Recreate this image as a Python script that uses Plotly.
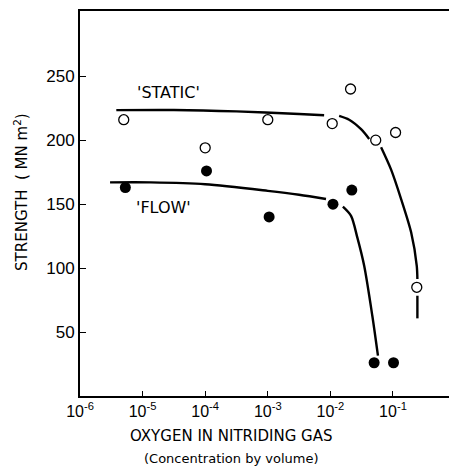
import plotly.graph_objects as go

# Measured strengths (MN m^-2) against oxygen concentration in the nitriding gas
static_x = [5e-6, 1e-4, 1e-3, 1.07e-2, 2.1e-2, 5.3e-2, 1.1e-1, 2.4e-1]
static_y = [216, 194, 216, 213, 240, 200, 206, 85]

flow_x = [5.3e-6, 1.05e-4, 1.05e-3, 1.1e-2, 2.2e-2, 5e-2, 1.02e-1]
flow_y = [163, 176, 140, 150, 161, 26, 26]

# Hand-fitted trend curves (log10 of concentration, strength); None breaks the stroke
static_curve_logx = [-5.42, -4.5, -3.5, -2.5, -2.1, None,
                     -1.86, -1.70, -1.51, -1.38, None,
                     -1.19, -1.03, -0.87, -0.71, -0.62, -0.61, None,
                     -0.61, -0.61]
static_curve_y = [223.5, 223.6, 222.5, 220.5, 219.5, None,
                  219, 216, 208.6, 201, None,
                  194.5, 177, 154, 128, 101.8, 91.4, None,
                  78.4, 60.7]

flow_curve_logx = [-5.52, -4.87, -4.0, -3.0, -2.5, -2.07, None,
                   -1.80, -1.67, -1.57, -1.46, -1.33, -1.24]
flow_curve_y = [167, 167, 165.6, 160.4, 157.3, 154, None,
                148, 140.8, 124, 101.8, 62.7, 31.5]

x_tick_vals = [1e-6, 1e-5, 1e-4, 1e-3, 1e-2, 1e-1]
x_tick_text = ["10<sup>-6</sup>", "10<sup>-5</sup>", "10<sup>-4</sup>",
               "10<sup>-3</sup>", "10<sup>-2</sup>", "10<sup>-1</sup>"]
y_tick_vals = [50, 100, 150, 200, 250]

TEXT_FONT = "DejaVu Sans, Liberation Sans, sans-serif"
NUM_FONT = "Liberation Sans, Arial, sans-serif"


def to_conc(logs):
    return [None if v is None else 10 ** v for v in logs]


fig = go.Figure()

fig.add_trace(go.Scatter(
    x=to_conc(static_curve_logx), y=static_curve_y, mode="lines",
    line=dict(color="black", width=2.4, shape="spline", smoothing=0.8),
    connectgaps=False, hoverinfo="skip"))
fig.add_trace(go.Scatter(
    x=to_conc(flow_curve_logx), y=flow_curve_y, mode="lines",
    line=dict(color="black", width=2.4, shape="spline", smoothing=0.8),
    connectgaps=False, hoverinfo="skip"))

fig.add_trace(go.Scatter(
    x=static_x, y=static_y, mode="markers", name="Static",
    marker=dict(symbol="circle", size=10, color="white",
                line=dict(color="black", width=1.3))))
fig.add_trace(go.Scatter(
    x=flow_x, y=flow_y, mode="markers", name="Flow",
    marker=dict(symbol="circle", size=11, color="black",
                line=dict(color="black", width=0))))

# Curve labels
fig.add_annotation(x=-4.59, y=237.5, xref="x", yref="y", text="'STATIC'",
                   showarrow=False, font=dict(family=TEXT_FONT, size=16, color="black"))
fig.add_annotation(x=-4.67, y=147.5, xref="x", yref="y", text="'FLOW'",
                   showarrow=False, font=dict(family=TEXT_FONT, size=16, color="black"))

# Axis titles
fig.add_annotation(x=0.41, y=-0.105, xref="paper", yref="paper",
                   text="OXYGEN IN NITRIDING GAS", showarrow=False,
                   xanchor="center", yanchor="middle",
                   font=dict(family=TEXT_FONT, size=15, color="black"))
fig.add_annotation(x=0.41, y=-0.163, xref="paper", yref="paper",
                   text="(Concentration by volume)", showarrow=False,
                   xanchor="center", yanchor="middle",
                   font=dict(family=TEXT_FONT, size=13, color="black"))
fig.add_annotation(x=-0.16, y=0.53, xref="paper", yref="paper",
                   text="STRENGTH  ( MN m<sup>2</sup>)", showarrow=False,
                   textangle=-90, xanchor="center", yanchor="middle",
                   font=dict(family=TEXT_FONT, size=15, color="black"))

fig.update_layout(
    width=449, height=473,
    margin=dict(l=80, r=0, t=11, b=77),
    paper_bgcolor="white", plot_bgcolor="white",
    showlegend=False,
    font=dict(family=NUM_FONT, size=16, color="black"),
)

fig.update_xaxes(
    type="log", range=[-6, -0.105],
    tickvals=x_tick_vals, ticktext=x_tick_text,
    ticks="inside", ticklen=5, tickwidth=1, tickcolor="black",
    showline=True, linecolor="black", linewidth=2, mirror=True,
    showgrid=False, zeroline=False,
    tickfont=dict(family=NUM_FONT, size=16),
)
fig.update_yaxes(
    range=[0, 301],
    tickvals=y_tick_vals,
    ticks="inside", ticklen=6, tickwidth=1, tickcolor="black",
    showline=True, linecolor="black", linewidth=2, mirror=False,
    showgrid=False, zeroline=False,
    tickfont=dict(family=NUM_FONT, size=17),
)

fig.write_html("out.html")
